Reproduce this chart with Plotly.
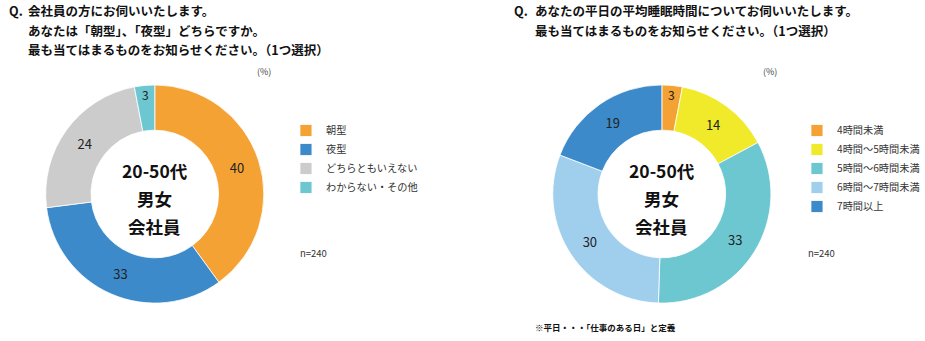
import plotly.graph_objects as go

W, H = 925, 341
FONT = "Noto Sans CJK JP"

# --- data ---
type_labels = ["朝型", "夜型", "どちらともいえない", "わからない・その他"]
type_values = [40, 33, 24, 3]
type_colors = ["#F4A233", "#3C8AC9", "#CCCCCC", "#6CC7D1"]

sleep_labels = ["4時間未満", "4時間～5時間未満", "5時間～6時間未満", "6時間～7時間未満", "7時間以上"]
sleep_values = [3, 14, 33, 30, 19]
sleep_colors = ["#F4A233", "#F0EA2A", "#6CC7D1", "#A0CFEE", "#3C8AC9"]

center_lines = ["20-50代", "男女", "会社員"]
title_left = ["会社員の方にお伺いいたします。", "あなたは「朝型」、「夜型」どちらですか。",
              "最も当てはまるものをお知らせください。（1つ選択）"]
title_right = ["あなたの平日の平均睡眠時間についてお伺いいたします。",
               "最も当てはまるものをお知らせください。（1つ選択）"]
n_text = "n=240"
footnote = "※平日・・・「仕事のある日」と定義"


def px(x):
    return x / W


def py(y):
    return 1 - y / H


def pie_domain(cx, cy, r):
    return dict(x=[px(cx - r), px(cx + r)], y=[py(cy + r), py(cy - r)])


fig = go.Figure()
fig.add_trace(go.Pie(
    labels=type_labels, values=type_values, text=[str(v) for v in type_values],
    textinfo="text", textposition="inside", insidetextorientation="horizontal",
    textfont=dict(size=13, color="#222", family=FONT),
    marker=dict(colors=type_colors, line=dict(color="white", width=0.8)),
    hole=0.585, sort=False, direction="clockwise", rotation=0,
    domain=pie_domain(157.5, 194, 111), legend="legend",
))
fig.add_trace(go.Pie(
    labels=sleep_labels, values=sleep_values, text=[str(v) for v in sleep_values],
    textinfo="text", textposition="inside", insidetextorientation="horizontal",
    textfont=dict(size=13, color="#222", family=FONT),
    marker=dict(colors=sleep_colors, line=dict(color="white", width=0.8)),
    hole=0.585, sort=False, direction="clockwise", rotation=0,
    domain=pie_domain(673.5, 194, 111), legend="legend2",
))

ann = []


def text(x, y, s, size, bold=False, color="#111", anchor="left"):
    ann.append(dict(x=px(x), y=py(y), xref="paper", yref="paper", xanchor=anchor,
                    yanchor="middle", showarrow=False,
                    text=f"<b>{s}</b>" if bold else s,
                    font=dict(family=FONT, size=size, color=color)))


# titles
text(7, 11, "Q.", 12.5, True)
for i, s in enumerate(title_left):
    text(26, 11 + 19.5 * i, s, 12.5, True)
text(521, 11, "Q.", 12.5, True)
for i, s in enumerate(title_right):
    text(542, 11 + 19.5 * i, s, 12.5, True)

# centre text
for cx in (157.5, 673.5):
    for i, s in enumerate(center_lines):
        text(cx, 170 + 28 * i, s, 17.5, True, "#111", "center")

text(269, 71, "(%)", 9, False, "#444", "center")
text(784, 71, "(%)", 9, False, "#444", "center")
text(303, 253, n_text, 9.5, False, "#333")
text(820, 253, n_text, 9.5, False, "#333")
text(542, 327, footnote, 8.5, True, "#111")

legend_common = dict(font=dict(family=FONT, size=10.2, color="#333"),
                     xanchor="left", yanchor="top", bgcolor="rgba(0,0,0,0)",
                     traceorder="normal", itemclick=False)

fig.update_layout(
    width=W, height=H, margin=dict(l=0, r=0, t=0, b=0),
    paper_bgcolor="white", plot_bgcolor="white",
    font=dict(family=FONT),
    annotations=ann,
    legend=dict(x=px(291), y=py(116), **legend_common),
    legend2=dict(x=px(811), y=py(116), **legend_common),
)

fig.write_html("out.html")
